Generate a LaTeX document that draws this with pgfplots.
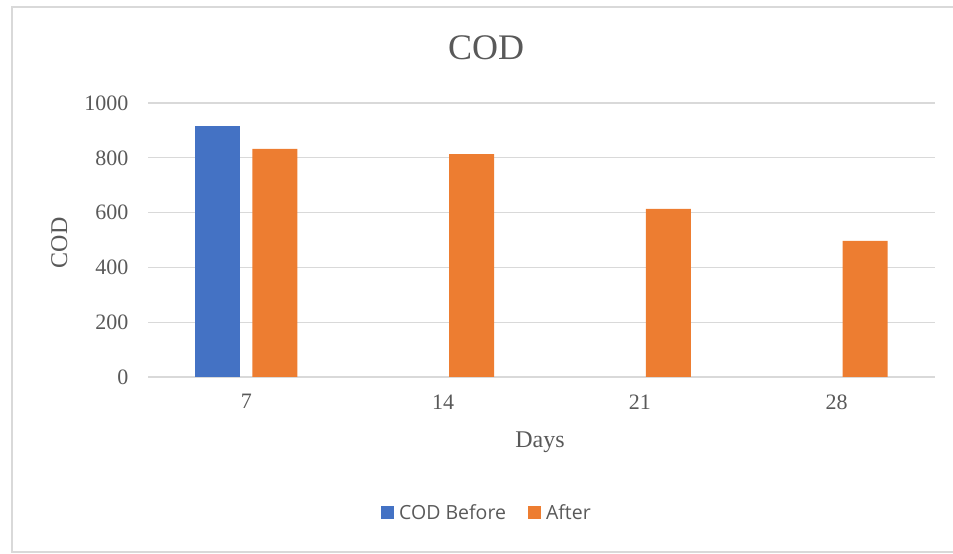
\documentclass[border=0pt]{standalone}
\usepackage{fontspec}
\setmainfont{Liberation Serif}
\newfontfamily\legfont{Open Sans}
\usepackage{pgfplots}
\pgfplotsset{compat=1.18}
\definecolor{cblue}{HTML}{4472C4}
\definecolor{corange}{HTML}{ED7D31}
\definecolor{txt}{HTML}{595959}
\definecolor{gridc}{HTML}{D9D9D9}
\begin{document}
\begin{tikzpicture}[x=1pt,y=1pt]
\useasboundingbox (0,0) rectangle (953,554);
\draw[gridc, line width=1.2pt] (12,2) rectangle (970,547);
\begin{axis}[
  at={(148pt,177pt)}, anchor=south west,
  scale only axis, width=787pt, height=274pt,
  xmin=-0.5, xmax=3.5, ymin=0, ymax=1000,
  xtick={0,1,2,3}, xticklabels={7,14,21,28},
  ytick={0,200,400,600,800,1000},
  ymajorgrids, grid style={gridc, line width=1.2pt},
  axis line style={draw=none},
  major tick length=0pt,
  /pgf/number format/assume math mode=true,
  /pgf/number format/1000 sep={},
  ticklabel style={font=\fontsize{22}{22}\selectfont, text=txt},
  yticklabel style={xshift=-16pt},
  xticklabel style={yshift=-14pt},
  ybar=12pt, bar width=45pt,
  legend style={at={(0.4307,-0.496)}, anchor=center, draw=none, fill=none,
    legend columns=2, font=\legfont\fontsize{19.5}{20}\selectfont, text=txt,
    /tikz/every even column/.append style={column sep=20pt}},
  legend image code/.code={\fill[#1] (0pt,-6.5pt) rectangle (13pt,6.5pt); \path (16pt,0pt);},
]
\addplot[fill=cblue, draw=none] coordinates {(0,916)};
\addlegendentry{COD Before}
\addplot[fill=corange, draw=none] coordinates {(0,833) (1,813) (2,614) (3,497)};
\addlegendentry{After}
\end{axis}
\node[txt, anchor=base, font=\fontsize{36}{36}\selectfont] at (486,494) {COD};
\node[txt, anchor=base, font=\fontsize{24}{24}\selectfont] at (540,106) {Days};
\node[txt, anchor=base, rotate=90, font=\fontsize{24}{24}\selectfont] at (67,311) {COD};
\end{tikzpicture}
\end{document}
